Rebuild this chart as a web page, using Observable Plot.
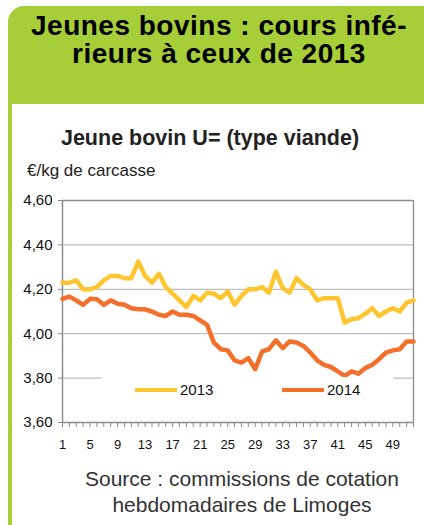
<!DOCTYPE html>
<html>
<head>
<meta charset="utf-8">
<script src="https://cdn.jsdelivr.net/npm/d3@7"></script>
<script src="https://cdn.jsdelivr.net/npm/@observablehq/plot@0.6"></script>
<style>
  html, body { margin: 0; padding: 0; background: #fff; }
  #page { position: relative; width: 424px; height: 525px; overflow: hidden; font-family: "Liberation Sans", Arial, sans-serif; }
  #header { position: absolute; left: 8px; top: 6px; width: 416px; height: 98px; background: #a6ce39; border-top-left-radius: 16px; }
  #border { position: absolute; left: 8px; top: 104px; width: 4px; height: 421px; background: #a6ce39; }
  #title { position: absolute; left: 14px; top: 12px; width: 410px; text-align: center; font-weight: bold; font-size: 28px; letter-spacing: 0.5px; line-height: 28px; color: #000; }
  #ctitle { position: absolute; left: 0; top: 126px; width: 420px; text-align: center; font-weight: bold; font-size: 21.5px; color: #222; }
  #unit { position: absolute; left: 27px; top: 161px; font-size: 17px; color: #222; }
  #chart { position: absolute; left: 0; top: 185px; }
  #legend { position: absolute; left: 102px; top: 377px; width: 291px; height: 25px; background: #fff; }
  .lg { position: absolute; top: 4px; font-size: 15px; color: #111; display: flex; align-items: center; }
  .sw { display: inline-block; width: 42px; height: 4px; margin-right: 3px; }
  #caption { position: absolute; left: 30px; top: 466px; width: 424px; text-align: center; font-size: 21px; line-height: 26px; color: #333; }
</style>
</head>
<body>
<div id="page">
  <div id="header"></div>
  <div id="border"></div>
  <div id="title">Jeunes bovins : cours infé-<br>rieurs à ceux de 2013</div>
  <div id="ctitle">Jeune bovin U= (type viande)</div>
  <div id="unit">€/kg de carcasse</div>
  <div id="chart"></div>
  <div id="legend"></div>
  <div id="caption">Source : commissions de cotation<br>hebdomadaires de Limoges</div>
</div>
<script>
const weeks = [1,2,3,4,5,6,7,8,9,10,11,12,13,14,15,16,17,18,19,20,21,22,23,24,25,26,27,28,29,30,31,32,33,34,35,36,37,38,39,40,41,42,43,44,45,46,47,48,49,50,51,52];
const price2013 = [4.23,4.23,4.24,4.20,4.20,4.21,4.24,4.26,4.26,4.25,4.25,4.325,4.26,4.23,4.27,4.21,4.18,4.15,4.12,4.17,4.15,4.185,4.18,4.16,4.19,4.13,4.17,4.20,4.20,4.21,4.185,4.28,4.205,4.185,4.25,4.22,4.20,4.15,4.16,4.16,4.16,4.05,4.065,4.07,4.09,4.115,4.08,4.10,4.115,4.10,4.14,4.15];
const price2014 = [4.157,4.167,4.15,4.13,4.157,4.155,4.13,4.15,4.135,4.13,4.115,4.11,4.11,4.10,4.085,4.08,4.10,4.085,4.085,4.08,4.06,4.04,3.96,3.93,3.925,3.88,3.87,3.89,3.84,3.92,3.93,3.97,3.935,3.965,3.96,3.945,3.915,3.88,3.86,3.85,3.83,3.81,3.83,3.82,3.845,3.86,3.885,3.915,3.925,3.93,3.965,3.965];
const seriesNames = ["2013", "2014"];
const seriesColors = ["#fec52e", "#f36f2a"];
const yTicks = [3.6, 3.8, 4.0, 4.2, 4.4, 4.6];
const xTickLabels = [1,5,9,13,17,21,25,29,33,37,41,45,49];

const data = [];
weeks.forEach((w, i) => {
  data.push({week: w, price: price2013[i], year: seriesNames[0]});
  data.push({week: w, price: price2014[i], year: seriesNames[1]});
});

const chart = Plot.plot({
  width: 424,
  height: 270,
  marginLeft: 62,
  marginRight: 11,
  marginTop: 15,
  marginBottom: 33,
  style: {fontFamily: "Liberation Sans, Arial, sans-serif", background: "transparent"},
  x: {domain: [1, 52], label: null},
  y: {domain: [3.6, 4.6], label: null},
  color: {domain: seriesNames, range: seriesColors},
  marks: [
    Plot.gridY(yTicks.slice(1, -1), {stroke: "#bfbfbf", strokeOpacity: 1, strokeWidth: 1.3}),
    Plot.ruleY([4.6], {stroke: "#8c8c8c", strokeWidth: 1.3}),
    Plot.ruleX([52], {stroke: "#8c8c8c", strokeWidth: 1.3}),
    Plot.axisY({ticks: yTicks, label: null, tickSize: 4, tickPadding: 6, fontSize: 15, stroke: "#8c8c8c", fill: "#111",
      tickFormat: d => d.toFixed(2).replace(".", ",")}),
    Plot.axisX({ticks: weeks, label: null, tickSize: 5, tickPadding: 12, fontSize: 13, stroke: "#8c8c8c", fill: "#111",
      tickFormat: d => xTickLabels.includes(d) ? String(d) : ""}),
    Plot.ruleX([1], {stroke: "#8c8c8c", strokeWidth: 1.5}),
    Plot.ruleY([3.6], {stroke: "#8c8c8c", strokeWidth: 1.5}),
    Plot.line(data, {x: "week", y: "price", z: "year", stroke: "year", strokeWidth: 4.5, strokeLinejoin: "round", strokeLinecap: "round"})
  ]
});
document.getElementById("chart").appendChild(chart);

const legend = document.getElementById("legend");
const legendX = [33, 180];
seriesNames.forEach((name, i) => {
  const item = document.createElement("div");
  item.className = "lg";
  item.style.left = legendX[i] + "px";
  const sw = document.createElement("span");
  sw.className = "sw";
  sw.style.background = seriesColors[i];
  item.appendChild(sw);
  item.appendChild(document.createTextNode(name));
  legend.appendChild(item);
});
</script>
</body>
</html>
